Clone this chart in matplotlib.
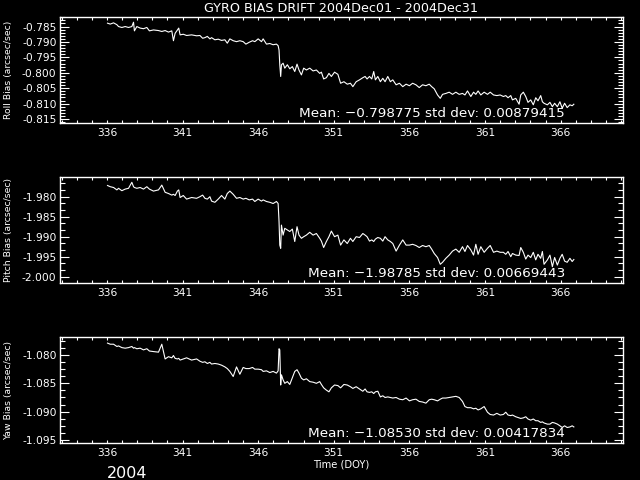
import numpy as np
import matplotlib
matplotlib.use("Agg")
import matplotlib.pyplot as plt
from matplotlib.ticker import MultipleLocator, FormatStrFormatter

# ---------------- data ----------------
days = [
    336.04, 336.22, 336.44, 336.66, 336.77, 336.99, 337.21, 337.43, 337.65, 337.76,
    337.82, 337.98, 338.20, 338.42, 338.64, 338.81, 339.08, 339.41, 339.63, 339.85,
    340.07, 340.29, 340.40, 340.51, 340.66, 340.75, 340.84, 341.05, 341.27, 341.60,
    341.93, 342.15, 342.33, 342.48, 342.64, 342.81, 342.92, 343.14, 343.36, 343.58,
    343.80, 343.96, 344.13, 344.35, 344.57, 344.79, 345.01, 345.19, 345.41, 345.63,
    345.78, 346.00, 346.22, 346.33, 346.55, 346.77, 346.99, 347.21, 347.32, 347.38,
    347.43, 347.49, 347.54, 347.65, 347.76, 347.93, 348.09, 348.26, 348.42, 348.57,
    348.70, 348.86, 349.01, 349.19, 349.41, 349.63, 349.85, 350.07, 350.18, 350.33,
    350.51, 350.68, 350.84, 351.05,
    351.27, 351.45, 351.67, 351.89, 352.10, 352.26, 352.48, 352.70, 352.92, 353.07,
    353.20, 353.36, 353.51, 353.64, 353.75, 353.91, 354.08, 354.24, 354.39, 354.57,
    354.74, 354.90, 355.12, 355.34, 355.56, 355.78, 356.00, 356.21, 356.43, 356.65,
    356.87, 357.09, 357.31, 357.47, 357.64, 357.86, 358.04, 358.19, 358.41, 358.63,
    358.85, 359.07, 359.29, 359.51, 359.67, 359.84, 360.06, 360.24, 360.39, 360.54,
    360.72, 360.94, 361.16, 361.34, 361.56, 361.78, 362.00, 362.21, 362.37, 362.52,
    362.70, 362.81, 363.03, 363.25, 363.36, 363.53, 363.69, 363.84, 364.02, 364.19,
    364.35, 364.50, 364.68, 364.79, 364.90, 365.12, 365.29, 365.45, 365.60, 365.78,
    365.95, 366.10, 366.26, 366.43, 366.61, 366.76, 366.87,
]

roll_bias = [
    -0.7839, -0.7842, -0.7838, -0.7844, -0.7850, -0.7853, -0.7850, -0.7853, -0.7850, -0.7836,
    -0.7864, -0.7850, -0.7855, -0.7857, -0.7853, -0.7864, -0.7861, -0.7863, -0.7866, -0.7863,
    -0.7868, -0.7864, -0.7896, -0.7872, -0.7861, -0.7855, -0.7877, -0.7875, -0.7879, -0.7877,
    -0.7880, -0.7879, -0.7888, -0.7886, -0.7882, -0.7890, -0.7886, -0.7893, -0.7891, -0.7895,
    -0.7893, -0.7904, -0.7890, -0.7896, -0.7899, -0.7896, -0.7899, -0.7907, -0.7901, -0.7896,
    -0.7899, -0.7890, -0.7899, -0.7890, -0.7907, -0.7905, -0.7909, -0.7907, -0.7912, -0.7926,
    -0.7974, -0.8012, -0.7974, -0.7969, -0.7985, -0.7974, -0.7987, -0.7980, -0.7996, -0.7972,
    -0.7991, -0.8007, -0.7985, -0.7991, -0.7985, -0.7994, -0.7991, -0.8002, -0.7998, -0.8020,
    -0.8016, -0.8002, -0.8012, -0.7998,
    -0.8005, -0.8034, -0.8029, -0.8037, -0.8034, -0.8045, -0.8029, -0.8023, -0.8016, -0.8012,
    -0.8020, -0.8012, -0.8020, -0.7996, -0.8023, -0.8012, -0.8029, -0.8018, -0.8029, -0.8012,
    -0.8029, -0.8023, -0.8039, -0.8034, -0.8045, -0.8037, -0.8042, -0.8034, -0.8039, -0.8048,
    -0.8039, -0.8042, -0.8037, -0.8045, -0.8052, -0.8072, -0.8083, -0.8070, -0.8067, -0.8063,
    -0.8070, -0.8063, -0.8070, -0.8067, -0.8072, -0.8059, -0.8077, -0.8063, -0.8070, -0.8059,
    -0.8072, -0.8063, -0.8070, -0.8063, -0.8072, -0.8074, -0.8072, -0.8077, -0.8074, -0.8081,
    -0.8074, -0.8088, -0.8083, -0.8102, -0.8072, -0.8063, -0.8077, -0.8096, -0.8088, -0.8104,
    -0.8081, -0.8091, -0.8074, -0.8094, -0.8099, -0.8104, -0.8096, -0.8110, -0.8099, -0.8110,
    -0.8094, -0.8115, -0.8099, -0.8113, -0.8104, -0.8107, -0.8102,
]

pitch_bias = [
    -1.9772, -1.9775, -1.9777, -1.9783, -1.9779, -1.9785, -1.9781, -1.9779, -1.9764, -1.9775,
    -1.9777, -1.9779, -1.9777, -1.9781, -1.9775, -1.9781, -1.9786, -1.9783, -1.9771, -1.9789,
    -1.9792, -1.9796, -1.9794, -1.9797, -1.9786, -1.9783, -1.9802, -1.9797, -1.9806, -1.9802,
    -1.9804, -1.9800, -1.9796, -1.9804, -1.9806, -1.9800, -1.9811, -1.9814, -1.9806, -1.9797,
    -1.9806, -1.9792, -1.9786, -1.9794, -1.9804, -1.9802, -1.9806, -1.9804, -1.9808, -1.9806,
    -1.9812, -1.9806, -1.9811, -1.9808, -1.9812, -1.9814, -1.9817, -1.9812, -1.9817, -1.9862,
    -1.9921, -1.9929, -1.9871, -1.9896, -1.9879, -1.9883, -1.9887, -1.9881, -1.9912, -1.9875,
    -1.9896, -1.9904, -1.9900, -1.9896, -1.9889, -1.9896, -1.9892, -1.9904, -1.9911, -1.9927,
    -1.9912, -1.9900, -1.9886, -1.9900,
    -1.9896, -1.9921, -1.9908, -1.9917, -1.9904, -1.9912, -1.9900, -1.9902, -1.9892, -1.9896,
    -1.9900, -1.9911, -1.9908, -1.9912, -1.9906, -1.9902, -1.9904, -1.9911, -1.9900, -1.9908,
    -1.9912, -1.9917, -1.9936, -1.9921, -1.9908, -1.9921, -1.9921, -1.9919, -1.9922, -1.9927,
    -1.9922, -1.9925, -1.9922, -1.9931, -1.9942, -1.9952, -1.9969, -1.9964, -1.9954, -1.9946,
    -1.9936, -1.9931, -1.9939, -1.9925, -1.9937, -1.9922, -1.9933, -1.9946, -1.9919, -1.9944,
    -1.9925, -1.9939, -1.9929, -1.9922, -1.9939, -1.9936, -1.9939, -1.9939, -1.9944, -1.9937,
    -1.9950, -1.9942, -1.9946, -1.9947, -1.9927, -1.9939, -1.9956, -1.9946, -1.9952, -1.9939,
    -1.9958, -1.9944, -1.9954, -1.9937, -1.9969, -1.9958, -1.9946, -1.9975, -1.9952, -1.9971,
    -1.9954, -1.9944, -1.9961, -1.9964, -1.9954, -1.9962, -1.9957,
]

yaw_bias = [
    -1.0779, -1.0781, -1.0781, -1.0785, -1.0784, -1.0787, -1.0788, -1.0787, -1.0785, -1.0788,
    -1.0787, -1.0789, -1.0788, -1.0791, -1.0789, -1.0793, -1.0794, -1.0795, -1.0781, -1.0807,
    -1.0803, -1.0805, -1.0801, -1.0806, -1.0807, -1.0806, -1.0809, -1.0807, -1.0805, -1.0809,
    -1.0807, -1.0811, -1.0813, -1.0812, -1.0815, -1.0813, -1.0816, -1.0815, -1.0816, -1.0818,
    -1.0821, -1.0824, -1.0829, -1.0838, -1.0821, -1.0834, -1.0822, -1.0824, -1.0824, -1.0822,
    -1.0825, -1.0825, -1.0826, -1.0829, -1.0828, -1.0831, -1.0829, -1.0832, -1.0828, -1.0789,
    -1.0791, -1.0853, -1.0835, -1.0844, -1.0850, -1.0847, -1.0852, -1.0840, -1.0829, -1.0826,
    -1.0832, -1.0841, -1.0844, -1.0842, -1.0847, -1.0848, -1.0850, -1.0847, -1.0852, -1.0858,
    -1.0862, -1.0865, -1.0858, -1.0853,
    -1.0854, -1.0858, -1.0852, -1.0853, -1.0856, -1.0859, -1.0856, -1.0860, -1.0864, -1.0860,
    -1.0865, -1.0866, -1.0865, -1.0868, -1.0865, -1.0864, -1.0874, -1.0872, -1.0875, -1.0874,
    -1.0875, -1.0876, -1.0875, -1.0878, -1.0879, -1.0876, -1.0881, -1.0879, -1.0878, -1.0882,
    -1.0883, -1.0885, -1.0879, -1.0878, -1.0879, -1.0881, -1.0878, -1.0876, -1.0876, -1.0875,
    -1.0874, -1.0873, -1.0875, -1.0882, -1.0891, -1.0893, -1.0893, -1.0895, -1.0894, -1.0897,
    -1.0895, -1.0891, -1.0901, -1.0905, -1.0906, -1.0903, -1.0906, -1.0905, -1.0901, -1.0906,
    -1.0907, -1.0906, -1.0909, -1.0911, -1.0912, -1.0911, -1.0909, -1.0913, -1.0915, -1.0913,
    -1.0916, -1.0916, -1.0919, -1.0918, -1.0920, -1.0922, -1.0922, -1.0919, -1.0920, -1.0922,
    -1.0925, -1.0928, -1.0925, -1.0928, -1.0927, -1.0925, -1.0927,
]

panel_labels = ["Roll Bias (arcsec/sec)", "Pitch Bias (arcsec/sec)", "Yaw Bias (arcsec/sec)"]
stat_texts = ["Mean: \u22120.798775 std dev: 0.00879415",
              "Mean: \u22121.98785 std dev: 0.00669443",
              "Mean: \u22121.08530 std dev: 0.00417834"]
title = "GYRO BIAS DRIFT 2004Dec01 - 2004Dec31"
xtick_values = [336, 341, 346, 351, 356, 361, 366]
ylims = [(-0.8162, -0.7820), (-2.00165, -1.97515), (-1.09548, -1.07688)]
ymajor = [0.005, 0.005, 0.005]
yminor = [0.001, 0.005 / 3, 0.00125]

# ---------------- figure ----------------
fg = "white"
fig = plt.figure(figsize=(6.4, 4.8), dpi=100, facecolor="black")
W, H = 640.0, 480.0
left, right = 60.0, 622.7
panels_px = [(17.3, 122.7), (177.3, 283.3), (337.3, 442.7)]
series = [roll_bias, pitch_bias, yaw_bias]

for i, (top, bot) in enumerate(panels_px):
    ax = fig.add_axes([left / W, 1 - bot / H, (right - left) / W, (bot - top) / H])
    ax.set_facecolor("black")
    ax.plot(days, series[i], color=fg, lw=0.8)
    ax.set_xlim(332.9, 370.1)
    ax.set_ylim(*ylims[i])
    ax.set_xticks(xtick_values)
    ax.xaxis.set_minor_locator(MultipleLocator(1))
    ax.yaxis.set_major_locator(MultipleLocator(ymajor[i]))
    ax.yaxis.set_minor_locator(MultipleLocator(yminor[i]))
    ax.yaxis.set_major_formatter(FormatStrFormatter("%.3f"))
    for s in ax.spines.values():
        s.set_color(fg)
        s.set_linewidth(1.0)
    ax.tick_params(which="both", direction="in", top=True, right=True,
                   colors=fg, labelsize=7.7, width=0.8)
    ax.xaxis.set_tick_params(which="major", length=2.5, pad=3.5)
    ax.xaxis.set_tick_params(which="minor", length=2.0)
    ax.yaxis.set_tick_params(which="major", length=6.5, pad=2.5)
    ax.yaxis.set_tick_params(which="minor", length=3.5)
    ax.set_ylabel(panel_labels[i], color=fg, fontsize=6.7)
    ax.yaxis.set_label_coords(-0.083, 0.5)
    ax.text(0.8975, 0.055, stat_texts[i], transform=ax.transAxes, color=fg,
            fontsize=9.7, ha="right", va="baseline")
    if i == 2:
        ax.set_xlabel("Time (DOY)", color=fg, fontsize=7.2, labelpad=1.5)

fig.text(341.3 / W, 1 - 9 / H, title, color=fg, fontsize=9.2, ha="center", va="center")
fig.text(107 / W, 1 - 478.5 / H, "2004", color=fg, fontsize=11.5, ha="left", va="baseline")

fig.savefig("out.png", dpi=100, facecolor="black")
